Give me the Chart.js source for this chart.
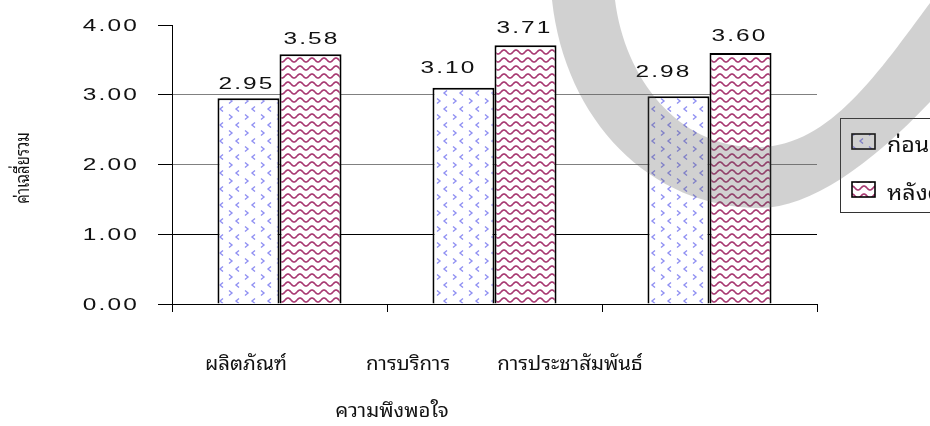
<!DOCTYPE html>
<html>
<head>
<meta charset="utf-8">
<script src="https://cdn.jsdelivr.net/npm/chart.js@4.4.0/dist/chart.umd.min.js"></script>
<style>
  html, body { margin: 0; padding: 0; background: #fff; overflow: hidden; }
  #chart { display: block; }
</style>
</head>
<body>
<canvas id="chart" width="930" height="426"></canvas>
<script>
const categories = ['ผลิตภัณฑ์', 'การบริการ', 'การประชาสัมพันธ์'];
const beforeValues = [2.95, 3.10, 2.98];
const afterValues = [3.58, 3.71, 3.60];
const seriesNames = ['ก่อนดำเนินการ', 'หลังดำเนินการ'];
const yTickValues = [0, 1, 2, 3, 4];
const xAxisTitle = 'ความพึงพอใจ';
const yAxisTitle = 'ค่าเฉลี่ยรวม';

const numFont = '17px "Liberation Sans", Arial, sans-serif';
const thaiFace = 'Tahoma, "Noto Sans Thai Looped", "Loma", "Waree", "Garuda", "Noto Sans Thai", sans-serif';

// light blue chevrons on white
function chevronPattern() {
  const c = document.createElement('canvas');
  c.width = 16; c.height = 16;
  const g = c.getContext('2d');
  g.fillStyle = '#fff';
  g.fillRect(0, 0, 16, 16);
  g.strokeStyle = '#9090f2';
  g.lineWidth = 1.4;
  g.beginPath(); g.moveTo(5, 2.5); g.lineTo(8, 5); g.lineTo(5, 7.5); g.stroke();
  g.beginPath(); g.moveTo(15, 10.5); g.lineTo(12, 13); g.lineTo(15, 15.5); g.stroke();
  return g.createPattern(c, 'repeat');
}

// maroon waves on white
function wavePattern() {
  const c = document.createElement('canvas');
  c.width = 12; c.height = 8;
  const g = c.getContext('2d');
  g.fillStyle = '#fff';
  g.fillRect(0, 0, 12, 8);
  g.strokeStyle = '#a83a72';
  g.lineWidth = 1.7;
  g.beginPath();
  for (let x = -1; x <= 13; x += 0.5) {
    const y = 4 - 2 * Math.cos(2 * Math.PI * x / 12);
    if (x === -1) g.moveTo(x, y); else g.lineTo(x, y);
  }
  g.stroke();
  return g.createPattern(c, 'repeat');
}

const fills = [chevronPattern(), wavePattern()];

// hand-placed value labels: [dx, gap above bar]
const labelNudge = [
  [[-3, 9], [-16, 15], [-16, 19]],
  [[0, 10], [-2, 12], [-2, 12]]
];

function stretchedText(ctx, text, x, y, align, sx) {
  ctx.save();
  ctx.translate(x, y);
  ctx.scale(sx, 1);
  ctx.textAlign = align;
  ctx.fillText(text, 0, 0);
  ctx.restore();
}

const textPlugin = {
  id: 'textLayer',
  afterDraw(chart) {
    const ctx = chart.ctx;
    const yScale = chart.scales.y;
    ctx.save();
    ctx.fillStyle = '#111';

    // numbers: wide, a little tracked
    ctx.font = numFont;
    ctx.letterSpacing = '1.5px';
    const sxNum = 54 / (ctx.measureText('4.00').width - 1.5);
    ctx.textBaseline = 'middle';
    yTickValues.forEach(v => {
      stretchedText(ctx, v.toFixed(2), 139, yScale.getPixelForValue(v) + 1, 'right', sxNum);
    });

    ctx.textBaseline = 'alphabetic';
    chart.data.datasets.forEach((ds, di) => {
      chart.getDatasetMeta(di).data.forEach((bar, i) => {
        const [dx, gap] = labelNudge[di][i];
        stretchedText(ctx, ds.data[i].toFixed(2), bar.x + dx + 1, bar.y - gap, 'center', sxNum);
      });
    });
    ctx.letterSpacing = '0px';

    ctx.font = '20px ' + thaiFace;
    const sxThai = 82 / ctx.measureText(categories[0]).width;
    categories.forEach((c, i) => {
      stretchedText(ctx, c, 246 + 162 * i, 370, 'center', sxThai);
    });
    stretchedText(ctx, xAxisTitle, 392, 417, 'center', sxThai);

    ctx.save();
    ctx.translate(24, 168);
    ctx.scale(1.3, 1);
    ctx.rotate(-Math.PI / 2);
    ctx.font = '15px ' + thaiFace;
    ctx.textAlign = 'center';
    ctx.textBaseline = 'middle';
    ctx.fillText(yAxisTitle, 0, 0);
    ctx.restore();

    // legend
    ctx.strokeStyle = '#333';
    ctx.lineWidth = 1;
    ctx.fillStyle = '#fff';
    ctx.fillRect(840, 118, 120, 94);
    ctx.strokeRect(840.5, 118.5, 120, 94);
    seriesNames.forEach((name, i) => {
      const y = 134 + i * 48;
      ctx.fillStyle = fills[i];
      ctx.fillRect(852, y, 23, 15);
      ctx.strokeStyle = '#000';
      ctx.lineWidth = 1.6;
      ctx.strokeRect(852, y, 23, 15);
      ctx.fillStyle = '#111';
      ctx.font = '21px ' + thaiFace;
      stretchedText(ctx, name, 887, y + 18, 'left', sxThai * 1.08);
    });
    ctx.restore();

    // grey sweep over the right half
    ctx.save();
    ctx.fillStyle = 'rgba(90,90,90,0.28)';
    ctx.beginPath();
    ctx.moveTo(552, 0);
    ctx.bezierCurveTo(565, 120, 650, 208, 760, 208);
    ctx.bezierCurveTo(810, 208, 870, 165, 930, 102);
    ctx.lineTo(930, 3);
    ctx.bezierCurveTo(880, 70, 830, 146, 760, 147);
    ctx.bezierCurveTo(680, 150, 625, 80, 615, 0);
    ctx.closePath();
    ctx.fill();
    ctx.restore();
  }
};

new Chart(document.getElementById('chart'), {
  type: 'bar',
  data: {
    labels: categories,
    datasets: [
      { label: seriesNames[0], data: beforeValues, backgroundColor: fills[0], borderColor: '#000', borderWidth: 2 },
      { label: seriesNames[1], data: afterValues, backgroundColor: fills[1], borderColor: '#000', borderWidth: 2 }
    ]
  },
  options: {
    responsive: false,
    animation: false,
    datasets: { bar: { barPercentage: 1, categoryPercentage: 0.577 } },
    layout: { padding: { top: 25, right: 113, left: 0, bottom: 0 } },
    plugins: { legend: { display: false }, tooltip: { enabled: false } },
    scales: {
      x: {
        offset: true,
        ticks: { display: false },
        grid: { offset: true, drawOnChartArea: false, tickLength: 8, tickColor: '#000' },
        border: { display: true, color: '#000' },
        afterFit: s => { s.height = 122; }
      },
      y: {
        min: 0,
        max: 4,
        ticks: { display: false, stepSize: 1 },
        grid: {
          tickLength: 14,
          tickColor: '#000',
          color: c => {
            const v = c.tick ? c.tick.value : 0;
            if (v === 4) return 'rgba(0,0,0,0)';
            if (v === 2 || v === 3) return '#808080';
            return '#000';
          }
        },
        border: { display: true, color: '#000' },
        afterFit: s => { s.width = 172; }
      }
    }
  },
  plugins: [textPlugin]
});
</script>
</body>
</html>
